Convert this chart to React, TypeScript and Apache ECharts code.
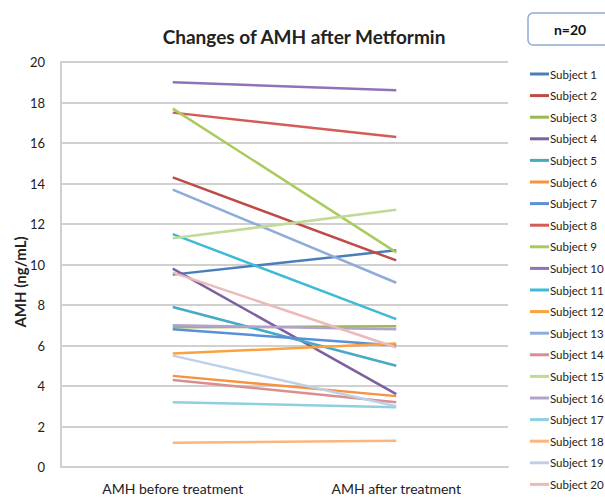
import React, { useEffect, useRef } from "react";
import * as echarts from "echarts";

const categories = ["AMH before treatment", "AMH after treatment"];
const subjects = Array.from({ length: 20 }, (_, i) => `Subject ${i + 1}`);
const beforeValues = [9.5, 14.3, 6.9, 9.8, 7.9, 4.5, 6.8, 17.5, 17.7, 19.0, 11.5, 5.6, 13.7, 4.3, 11.3, 7.0, 3.2, 1.2, 5.5, 9.6];
const afterValues = [10.7, 10.2, 6.95, 3.6, 5.0, 3.5, 6.0, 16.3, 10.6, 18.6, 7.3, 6.1, 9.1, 3.2, 12.7, 6.8, 2.95, 1.3, 3.0, 5.9];
const colors = [
  "#4A7EBB", "#BE4B48", "#98B954", "#7D60A0", "#46AAC5", "#F69240", "#5A8FD8",
  "#D55B57", "#A9CB5C", "#8F72B8", "#3FBAD6", "#F9A23F", "#8EABD9", "#D98F8D",
  "#C2DA98", "#B3A2CD", "#8FCFE0", "#FBB57E", "#BDD0EA", "#EBBAB9",
];
const yTicks = { min: 0, max: 20, interval: 2 };
const yName = "AMH (ng/mL)";
const FONT = "Lato, 'Open Sans', sans-serif";

export default function App() {
  const ref = useRef<HTMLDivElement>(null);
  useEffect(() => {
    if (!ref.current) return;
    document.body.style.margin = "0";
    const chart = echarts.init(ref.current, null, { renderer: "svg" });
    chart.setOption({
      animation: false,
      backgroundColor: "#ffffff",
      color: colors,
      title: {
        text: "Changes of AMH after Metformin",
        left: 299,
        textAlign: "center",
        top: 22,
        textStyle: { fontFamily: FONT, fontWeight: "bold", fontSize: 19, color: "#222" },
      },
      graphic: [
        {
          type: "rect",
          shape: { x: 528, y: 13, width: 90, height: 32, r: 5 },
          style: { fill: "#fff", stroke: "#8EAAD6", lineWidth: 1.5 },
        },
        {
          type: "text",
          x: 570,
          y: 29,
          style: {
            text: "n=20",
            fontFamily: FONT,
            fontWeight: "bold",
            fontSize: 14,
            fill: "#111",
            align: "center",
            verticalAlign: "middle",
          },
        },
        {
          type: "text",
          x: 20,
          y: 282,
          rotation: Math.PI / 2,
          style: {
            text: yName,
            fontFamily: FONT,
            fontWeight: "bold",
            fontSize: 15,
            fill: "#222",
            align: "center",
            verticalAlign: "middle",
          },
        },
      ],
      legend: {
        orient: "vertical",
        left: 525,
        top: 62,
        height: 436,
        icon: "rect",
        itemWidth: 19,
        itemHeight: 3,
        itemGap: 7.6,
        data: subjects,
        textStyle: { fontFamily: FONT, fontSize: 11.5, color: "#222", lineHeight: 14, padding: [0, 0, 0, -4] },
      },
      grid: { left: 61, right: 97, top: 62, bottom: 33 },
      xAxis: {
        type: "category",
        data: categories,
        boundaryGap: true,
        axisLine: { show: true, lineStyle: { color: "#D0D0D0", width: 2 } },
        axisTick: { show: false },
        axisLabel: { fontFamily: FONT, fontSize: 14, color: "#222", margin: 14 },
      },
      yAxis: {
        type: "value",
        min: yTicks.min,
        max: yTicks.max,
        interval: yTicks.interval,
        axisLine: { show: true, lineStyle: { color: "#D0D0D0", width: 2 } },
        axisTick: { show: false },
        splitLine: { show: true, lineStyle: { color: "#D0D0D0", width: 2 } },
        axisLabel: { fontFamily: FONT, fontSize: 13, color: "#222", margin: 16 },
      },
      series: subjects.map((name, i) => ({
        name,
        type: "line",
        data: [beforeValues[i], afterValues[i]],
        symbol: "none",
        lineStyle: { width: 2.5, color: colors[i] },
        itemStyle: { color: colors[i] },
        emphasis: { disabled: true },
      })),
    });
    return () => chart.dispose();
  }, []);
  return <div ref={ref} style={{ width: 605, height: 500 }} />;
}
